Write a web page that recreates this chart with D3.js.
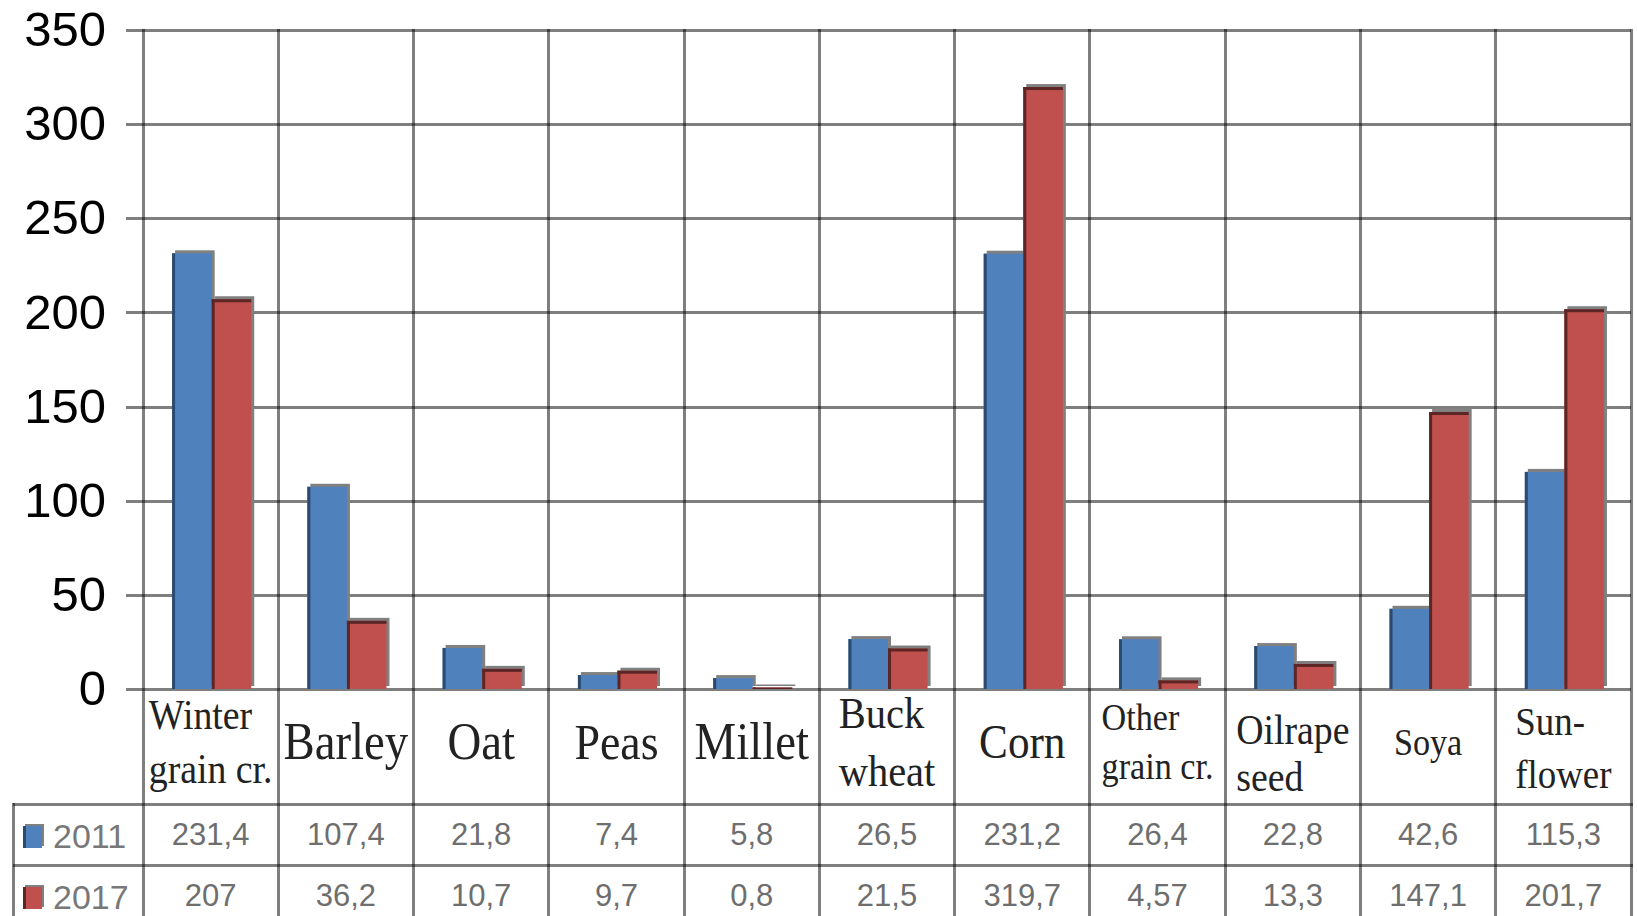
<!DOCTYPE html>
<html>
<head>
<meta charset="utf-8">
<script src="https://cdn.jsdelivr.net/npm/d3@7"></script>
<style>
    body { margin: 0; background: #fff; }
</style>
</head>
<body>
<div id="chart-container"></div>
<script>
/*
    Crop areas 2011 / 2017, column chart with data table
 */

var categories = ["Winter grain cr.", "Barley", "Oat", "Peas", "Millet", "Buck wheat",
                  "Corn", "Other grain cr.", "Oilrape seed", "Soya", "Sun-flower"];
var category_lines = [["Winter", "grain cr."], ["Barley"], ["Oat"], ["Peas"], ["Millet"], ["Buck", "wheat"],
                      ["Corn"], ["Other", "grain cr."], ["Oilrape", "seed"], ["Soya"], ["Sun-", "flower"]];
var series_names = ["2011", "2017"];
var values_2011 = [231.4, 107.4, 21.8, 7.4, 5.8, 26.5, 231.2, 26.4, 22.8, 42.6, 115.3];
var values_2017 = [207, 36.2, 10.7, 9.7, 0.8, 21.5, 319.7, 4.57, 13.3, 147.1, 201.7];
var y_ticks = [0, 50, 100, 150, 200, 250, 300, 350];

var svg_size = {
    'width': 1637,
    'height': 916
};

var chart_option = {
    'left': 143,
    'right': 1631,
    'top': 30,
    'bottom': 689,
    'tick_start': 126,
    'label_center': 742,
    'table': {
        'left': 13,
        'rows': [804, 865],
        'row_height': 61
    }
};

var series_values = {"2011": values_2011, "2017": values_2017};
var fill_color = {"2011": "#4f81bd", "2017": "#c0504d"};
var edge_color = {"2011": "#2b4a70", "2017": "#5c2626"};

// per label font sizes
var label_style = {
    "Winter grain cr.": {size: 42},
    "Barley": {size: 52},
    "Oat": {size: 52},
    "Peas": {size: 51},
    "Millet": {size: 52},
    "Buck wheat": {size: 45},
    "Corn": {size: 48},
    "Other grain cr.": {size: 38},
    "Oilrape seed": {size: 42, line: 1.12, dy: 12},
    "Soya": {size: 38},
    "Sun-flower": {size: 41, dy: 6}
};

var grid_stroke = function(sel){
    sel.style('stroke', '#000')
        .style('stroke-opacity', 0.5)
        .style('stroke-width', '3px')
        .style('shape-rendering', 'crispEdges');
};

var svg = d3.select("#chart-container")
    .append("svg")
    .attr('width', svg_size.width)
    .attr('height', svg_size.height);

svg.append('rect')
    .attr('width', svg_size.width)
    .attr('height', svg_size.height)
    .style('fill', '#fff');

var x_scale = d3.scaleBand()
    .domain(categories)
    .range([chart_option.left, chart_option.right]);

var bw = x_scale.bandwidth();

var series_scale = d3.scaleBand()
    .domain(series_names)
    .range([bw * 0.215, bw * 0.80]);

var y_scale = d3.scaleLinear()
    .domain([0, 350])
    .range([chart_option.bottom, chart_option.top]);

// y axis with horizontal grid
var y_axis = d3.axisLeft(y_scale)
    .tickValues(y_ticks)
    .tickFormat(d3.format('d'))
    .tickSizeInner(-(chart_option.right - chart_option.tick_start))
    .tickSizeOuter(0)
    .tickPadding(20);

var y_axis_group = svg.append('g')
    .attr('transform', 'translate(' + chart_option.tick_start + ',0)')
    .call(y_axis);

y_axis_group.select('.domain').remove();
y_axis_group.selectAll('.tick line').call(grid_stroke);
y_axis_group.selectAll('.tick text')
    .style('font-family', '"Liberation Sans", Arial, sans-serif')
    .style('font-size', '49px')
    .style('fill', '#000');

// vertical grid, runs through labels and table
var vertical_x = categories.map(function(d){ return x_scale(d); }).concat([chart_option.right]);

svg.append('g')
    .selectAll('line')
    .data(vertical_x)
    .enter()
    .append('line')
    .attr('x1', function(d){ return d; })
    .attr('x2', function(d){ return d; })
    .attr('y1', chart_option.top - 1.5)
    .attr('y2', svg_size.height)
    .call(grid_stroke);

// table lines
var table_group = svg.append('g');

table_group.selectAll('.row-line')
    .data(chart_option.table.rows)
    .enter()
    .append('line')
    .attr('x1', chart_option.table.left)
    .attr('x2', chart_option.right + 1.5)
    .attr('y1', function(d){ return d; })
    .attr('y2', function(d){ return d; })
    .call(grid_stroke);

table_group.append('line')
    .attr('x1', chart_option.table.left)
    .attr('x2', chart_option.table.left)
    .attr('y1', chart_option.table.rows[0] - 1.5)
    .attr('y2', svg_size.height)
    .call(grid_stroke);

// bars
var bar_data = categories.map(function(c, i){
    return {
        category: c,
        items: series_names.map(function(s){
            return {series: s, value: series_values[s][i]};
        })
    };
});

var category_enter = svg.append('g')
    .selectAll('.category')
    .data(bar_data)
    .enter()
    .append('g')
    .classed('category', true)
    .attr('transform', function(d){
        return 'translate(' + x_scale(d.category) + ',0)';
    });

var bar_enter = category_enter.selectAll('.bar')
    .data(function(d){ return d.items; })
    .enter()
    .append('g')
    .classed('bar', true);

// gray shadow up and right
bar_enter.append('rect')
    .attr('x', function(d){ return series_scale(d.series) + 3; })
    .attr('y', function(d){ return y_scale(d.value) - 3; })
    .attr('width', series_scale.bandwidth())
    .attr('height', function(d){ return y_scale(0) - y_scale(d.value); })
    .style('fill', '#808080');

bar_enter.append('rect')
    .attr('x', function(d){ return series_scale(d.series); })
    .attr('y', function(d){ return y_scale(d.value); })
    .attr('width', series_scale.bandwidth())
    .attr('height', function(d){ return y_scale(0) - y_scale(d.value); })
    .style('fill', function(d){ return fill_color[d.series]; });

bar_enter.append('rect')
    .attr('x', function(d){ return series_scale(d.series); })
    .attr('y', function(d){ return y_scale(d.value); })
    .attr('width', 3)
    .attr('height', function(d){ return y_scale(0) - y_scale(d.value); })
    .style('fill', function(d){ return edge_color[d.series]; });

bar_enter.filter(function(d){ return d.series == "2017"; })
    .append('rect')
    .attr('x', function(d){ return series_scale(d.series); })
    .attr('y', function(d){ return y_scale(d.value); })
    .attr('width', series_scale.bandwidth())
    .attr('height', function(d){ return Math.min(3, y_scale(0) - y_scale(d.value)); })
    .style('fill', function(d){ return edge_color[d.series]; });

// category labels
categories.forEach(function(c, i){
    var st = label_style[c];
    var lines = category_lines[i];
    var lh = st.size * (st.line || 1.3);
    var cap = st.size * 0.662;
    var first = chart_option.label_center + (st.dy || 0) + cap / 2 - (lines.length - 1) * lh / 2;

    var label_group = svg.append('g')
        .attr('transform', 'translate(' + (x_scale(c) + bw / 2) + ',0) scale(0.9,1)');

    var texts = label_group.selectAll('text')
        .data(lines)
        .enter()
        .append('text')
        .attr('y', function(d, k){ return first + k * lh; })
        .style('font-family', '"Liberation Serif", "Times New Roman", serif')
        .style('font-size', st.size + 'px')
        .style('fill', '#222')
        .text(function(d){ return d; });

    var max_w = 0;
    texts.each(function(){
        max_w = Math.max(max_w, this.getComputedTextLength());
    });
    texts.attr('x', -max_w / 2);
});

// table values and legend keys
series_names.forEach(function(s, r){
    var row_top = chart_option.table.rows[r];

    svg.append('rect')
        .attr('x', 25)
        .attr('y', row_top + 20)
        .attr('width', 19)
        .attr('height', 22)
        .style('fill', '#808080');
    svg.append('rect')
        .attr('x', 23)
        .attr('y', row_top + 22)
        .attr('width', 19)
        .attr('height', 22)
        .style('fill', fill_color[s]);
    svg.append('rect')
        .attr('x', 23)
        .attr('y', row_top + 22)
        .attr('width', 3)
        .attr('height', 22)
        .style('fill', edge_color[s]);

    svg.append('text')
        .attr('x', 53)
        .attr('y', row_top + 44)
        .style('font-family', '"Liberation Sans", Arial, sans-serif')
        .style('font-size', '34px')
        .style('fill', '#787878')
        .text(s);

    svg.append('g')
        .selectAll('text')
        .data(series_values[s])
        .enter()
        .append('text')
        .attr('x', function(d, i){ return x_scale(categories[i]) + bw / 2; })
        .attr('y', row_top + 41)
        .attr('text-anchor', 'middle')
        .style('font-family', '"Liberation Sans", Arial, sans-serif')
        .style('font-size', '31px')
        .style('fill', '#6e6e6e')
        .text(function(d){ return String(d).replace('.', ','); });
});
</script>
</body>
</html>
